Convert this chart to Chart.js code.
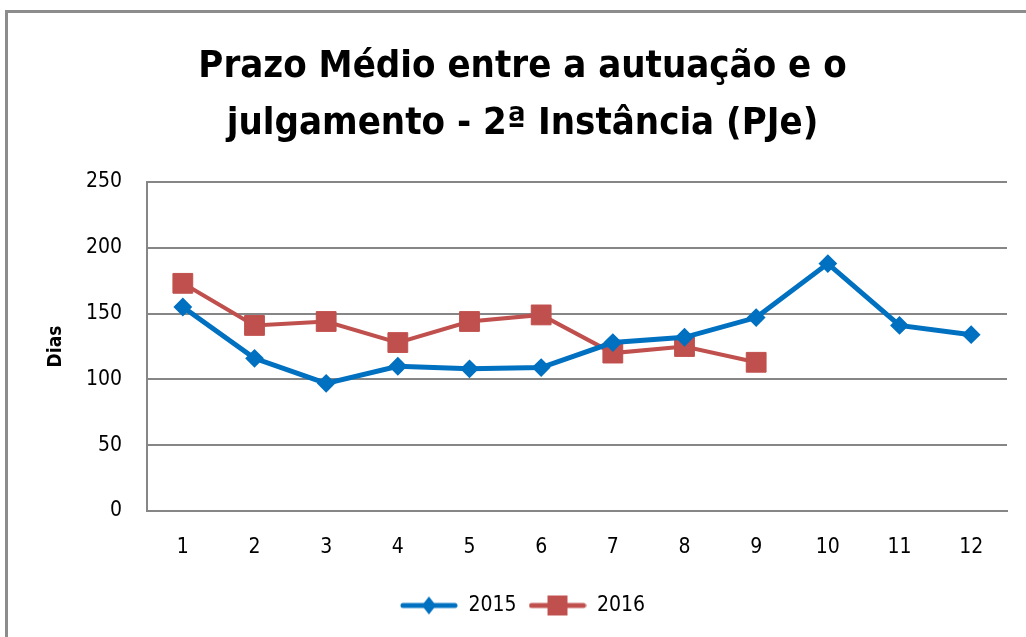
<!DOCTYPE html>
<html>
<head>
<meta charset="utf-8">
<script src="https://cdn.jsdelivr.net/npm/chart.js@4/dist/chart.umd.min.js"></script>
<style>
    html, body { margin: 0; padding: 0; background: #fff; overflow: hidden; }
    #frame { position: absolute; left: 5px; top: 10px; width: 1040px; height: 660px;
             border-top: 3px solid #8c8c8c; border-left: 3px solid #8c8c8c; }
    #wrap { position: absolute; left: 0; top: 0; width: 1026px; height: 637px; }
</style>
</head>
<body>
<div id="frame"></div>
<div id="wrap"><canvas id="chart" width="1026" height="637"></canvas></div>
<script>
var meses = ['1', '2', '3', '4', '5', '6', '7', '8', '9', '10', '11', '12'];
var yTicks = [0, 50, 100, 150, 200, 250];
var serie2015 = [155, 116, 97, 110, 108, 109, 128, 132, 147, 188, 141, 134];
var serie2016 = [173, 141, 144, 128, 144, 149, 120, 125, 113];
var nomesSeries = ['2015', '2016'];

var azul = '#0070C0';
var vermelho = '#C0504D';
var cinza = '#868686';
var fonte = "'Liberation Sans Narrow', 'DejaVu Sans Condensed', 'Open Sans', sans-serif";

// legend icons: line with marker in the middle
function iconeLegenda(cor, tipo) {
    var c = document.createElement('canvas');
    c.width = 58;
    c.height = 22;
    var g = c.getContext('2d');
    g.strokeStyle = cor;
    g.lineWidth = 5;
    g.lineCap = 'round';
    g.beginPath();
    g.moveTo(3, 11);
    g.lineTo(55, 11);
    g.stroke();
    g.fillStyle = cor;
    g.beginPath();
    if (tipo === 'diamante') {
        g.moveTo(29, 2);
        g.lineTo(36, 11);
        g.lineTo(29, 20);
        g.lineTo(22, 11);
    } else {
        g.rect(19, 1, 20, 20);
    }
    g.closePath();
    g.fill();
    return c;
}
var icones = [iconeLegenda(azul, 'diamante'), iconeLegenda(vermelho, 'quadrado')];

var ctx = document.getElementById('chart').getContext('2d');
new Chart(ctx, {
    type: 'line',
    data: {
        labels: meses,
        datasets: [{
            label: nomesSeries[0],
            data: serie2015,
            borderColor: azul,
            backgroundColor: azul,
            borderWidth: 5,
            pointStyle: 'rectRot',
            pointRadius: 8,
            pointBorderWidth: 2,
            pointBackgroundColor: azul,
            pointBorderColor: azul,
            tension: 0
        }, {
            label: nomesSeries[1],
            data: serie2016,
            borderColor: vermelho,
            backgroundColor: vermelho,
            borderWidth: 4,
            pointStyle: 'rect',
            pointRadius: 14,
            pointBorderWidth: 1,
            pointBackgroundColor: vermelho,
            pointBorderColor: vermelho,
            tension: 0
        }]
    },
    options: {
        responsive: false,
        animation: false,
        layout: { padding: { left: 38, right: 19, top: 0, bottom: 11 } },
        plugins: {
            tooltip: { enabled: false },
            title: {
                display: true,
                text: ['Prazo Médio entre a autuação e o', 'julgamento - 2ª Instância (PJe)'],
                color: '#000',
                font: { family: fonte, size: 38, weight: 'bold', lineHeight: 1.5 },
                padding: { top: 39, bottom: 29 }
            },
            legend: {
                position: 'bottom',
                labels: {
                    usePointStyle: true,
                    pointStyleWidth: 58,
                    color: '#000',
                    font: { family: fonte, size: 21 },
                    padding: 12,
                    generateLabels: function (chart) {
                        return chart.data.datasets.map(function (ds, i) {
                            return {
                                text: ds.label,
                                pointStyle: icones[i],
                                fillStyle: ds.borderColor,
                                strokeStyle: ds.borderColor,
                                lineWidth: 0,
                                hidden: false,
                                datasetIndex: i
                            };
                        });
                    }
                }
            }
        },
        scales: {
            x: {
                offset: true,
                grid: { display: false, drawTicks: false, offset: true },
                border: { display: true, color: cinza, width: 2 },
                ticks: { color: '#000', font: { family: fonte, size: 21 }, padding: 24 },
                afterFit: function (s) { s.height = 72; }
            },
            y: {
                min: yTicks[0],
                max: yTicks[yTicks.length - 1],
                ticks: {
                    stepSize: yTicks[1] - yTicks[0],
                    color: '#000',
                    font: { family: fonte, size: 21 },
                    padding: 25
                },
                grid: { color: cinza, lineWidth: 2, drawTicks: false },
                border: { display: true, color: cinza, width: 2 },
                title: {
                    display: true,
                    text: 'Dias',
                    color: '#000',
                    font: { family: fonte, size: 19, weight: 'bold' },
                    padding: { top: 7, bottom: 0 }
                },
                afterFit: function (s) { s.width = 109; }
            }
        }
    }
});
</script>
</body>
</html>
